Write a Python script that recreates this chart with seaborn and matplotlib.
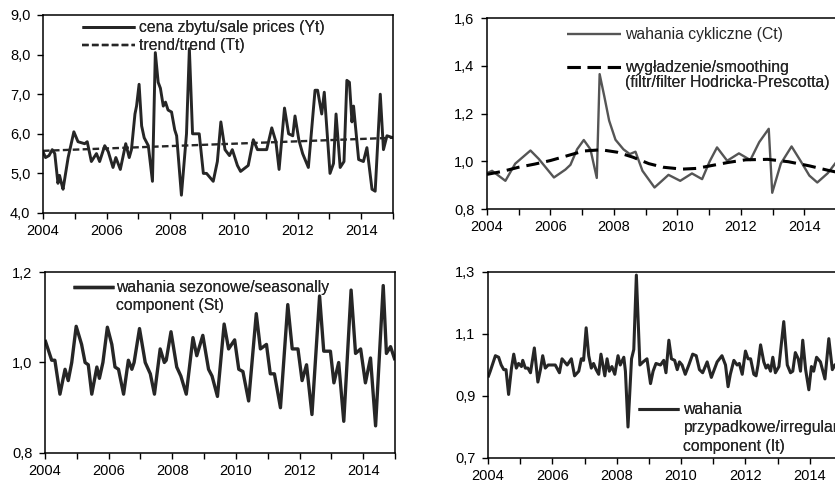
import matplotlib
matplotlib.use("Agg")
import matplotlib.pyplot as plt
import seaborn as sns
from matplotlib.ticker import MultipleLocator, FixedLocator, FuncFormatter
from matplotlib.lines import Line2D

# ---------------- data ----------------
# Panel 1: sale prices Yt (time in decimal years, value)
yt_t = [2004.00, 2004.08, 2004.19, 2004.29, 2004.37, 2004.47, 2004.52, 2004.58, 2004.63, 2004.79,
        2004.97, 2005.10, 2005.31, 2005.39, 2005.52, 2005.68, 2005.78, 2005.94, 2006.05, 2006.20,
        2006.29, 2006.43, 2006.60, 2006.71, 2006.78, 2006.89, 2006.94, 2007.02, 2007.10, 2007.18,
        2007.31, 2007.44, 2007.53, 2007.62, 2007.69, 2007.78, 2007.85, 2007.93, 2008.04, 2008.14,
        2008.20, 2008.35, 2008.51, 2008.60, 2008.70, 2008.91, 2009.04, 2009.14, 2009.35, 2009.48,
        2009.59, 2009.72, 2009.86, 2009.95, 2010.11, 2010.21, 2010.45, 2010.61, 2010.74, 2011.03,
        2011.19, 2011.32, 2011.42, 2011.59, 2011.72, 2011.85, 2011.92, 2012.04, 2012.16, 2012.34,
        2012.55, 2012.63, 2012.76, 2012.84, 2013.02, 2013.13, 2013.21, 2013.34, 2013.46, 2013.55,
        2013.63, 2013.71, 2013.76, 2013.92, 2014.07, 2014.18, 2014.34, 2014.44, 2014.60, 2014.70,
        2014.81, 2015.00]
yt_v = [5.55, 5.40, 5.45, 5.60, 5.50, 4.75, 4.95, 4.75, 4.60, 5.40,
        6.05, 5.80, 5.75, 5.80, 5.30, 5.50, 5.30, 5.70, 5.55, 5.15,
        5.40, 5.10, 5.75, 5.40, 5.60, 6.50, 6.70, 7.25, 6.20, 5.90,
        5.70, 4.80, 8.05, 7.30, 7.15, 6.70, 6.80, 6.60, 6.55, 6.10,
        5.95, 4.45, 6.00, 8.15, 6.00, 6.00, 5.00, 5.00, 4.80, 5.30,
        6.30, 5.60, 5.45, 5.60, 5.20, 5.05, 5.20, 5.85, 5.60, 5.60,
        6.15, 5.80, 5.10, 6.65, 6.00, 5.95, 6.45, 5.85, 5.50, 5.15,
        7.10, 7.10, 6.50, 7.05, 5.00, 5.25, 6.50, 5.15, 5.30, 7.35,
        7.30, 6.30, 6.70, 5.35, 5.30, 5.65, 4.60, 4.55, 7.00, 5.60,
        5.95, 5.90]
trend_t = [2004.0, 2015.0]
trend_v = [5.57, 5.90]

# Panel 2: cyclical component Ct and HP smoothing
ct_t = [2004.00, 2004.16, 2004.58, 2004.89, 2005.37, 2005.63, 2006.11, 2006.47, 2006.63, 2006.84,
        2007.05, 2007.26, 2007.46, 2007.55, 2007.70, 2007.85, 2008.05, 2008.30, 2008.50, 2008.68,
        2008.90, 2009.28, 2009.53, 2009.72, 2010.09, 2010.46, 2010.78, 2011.02, 2011.25, 2011.57,
        2011.94, 2012.30, 2012.58, 2012.88, 2012.99, 2013.26, 2013.60, 2013.89, 2014.16, 2014.41,
        2014.74, 2015.00]
ct_v = [0.950, 0.960, 0.918, 0.990, 1.045, 1.010, 0.932, 0.965, 0.985, 1.050,
        1.089, 1.050, 0.930, 1.365, 1.270, 1.170, 1.090, 1.050, 1.030, 1.040,
        0.960, 0.890, 0.920, 0.943, 0.918, 0.949, 0.925, 1.000, 1.058, 1.002,
        1.033, 1.005, 1.080, 1.136, 0.868, 0.990, 1.062, 1.000, 0.940, 0.911,
        0.950, 0.995]
hp_t = [2004.0, 2004.5, 2005.0, 2005.5, 2006.0, 2006.5, 2007.05, 2007.6, 2008.1, 2008.6,
        2009.1, 2009.55, 2010.15, 2010.6, 2011.0, 2011.6, 2012.15, 2012.85, 2013.5, 2014.15,
        2014.75, 2015.0]
hp_v = [0.945, 0.958, 0.975, 0.988, 1.003, 1.022, 1.043, 1.048, 1.038, 1.017,
        0.990, 0.975, 0.967, 0.970, 0.980, 0.995, 1.006, 1.008, 0.998, 0.981,
        0.962, 0.955]

# Panel 3: seasonal component St
st_t = [2004.00, 2004.14, 2004.21, 2004.31, 2004.47, 2004.63, 2004.73, 2004.84, 2004.98, 2005.15,
        2005.26, 2005.36, 2005.47, 2005.63, 2005.71, 2005.82, 2005.96, 2006.10, 2006.20, 2006.31,
        2006.47, 2006.62, 2006.73, 2006.80, 2006.97, 2007.15, 2007.31, 2007.44, 2007.62, 2007.75,
        2007.81, 2007.96, 2008.14, 2008.27, 2008.44, 2008.65, 2008.77, 2008.96, 2009.14, 2009.25,
        2009.42, 2009.63, 2009.77, 2009.96, 2010.09, 2010.22, 2010.40, 2010.64, 2010.77, 2010.96,
        2011.08, 2011.21, 2011.40, 2011.63, 2011.77, 2011.95, 2012.08, 2012.22, 2012.39, 2012.63,
        2012.76, 2012.97, 2013.08, 2013.23, 2013.39, 2013.62, 2013.76, 2013.92, 2014.07, 2014.23,
        2014.39, 2014.63, 2014.73, 2014.86, 2015.00]
st_v = [1.050, 1.020, 1.005, 1.005, 0.930, 0.985, 0.960, 1.000, 1.080, 1.040,
        1.000, 0.995, 0.930, 0.990, 0.965, 1.000, 1.078, 1.040, 0.990, 0.985,
        0.930, 1.005, 0.985, 1.000, 1.075, 1.000, 0.975, 0.930, 1.030, 1.000,
        1.005, 1.068, 0.990, 0.970, 0.930, 1.055, 1.015, 1.060, 0.985, 0.970,
        0.925, 1.085, 1.030, 1.050, 0.985, 0.980, 0.915, 1.108, 1.030, 1.040,
        0.975, 0.975, 0.900, 1.128, 1.030, 1.030, 0.960, 0.995, 0.885, 1.147,
        1.025, 1.025, 0.955, 1.000, 0.870, 1.160, 1.020, 1.030, 0.955, 1.010,
        0.860, 1.170, 1.020, 1.035, 1.005]

# Panel 4: irregular component It
it_t = [2004.00, 2004.07, 2004.23, 2004.33, 2004.41, 2004.49, 2004.56, 2004.64, 2004.73, 2004.80,
        2004.88, 2004.95, 2005.04, 2005.08, 2005.16, 2005.24, 2005.32, 2005.44, 2005.55, 2005.63,
        2005.70, 2005.78, 2005.87, 2006.09, 2006.22, 2006.30, 2006.46, 2006.59, 2006.69, 2006.82,
        2006.90, 2006.97, 2007.05, 2007.13, 2007.21, 2007.28, 2007.36, 2007.44, 2007.51, 2007.63,
        2007.70, 2007.77, 2007.85, 2007.94, 2008.04, 2008.11, 2008.22, 2008.27, 2008.35, 2008.46,
        2008.53, 2008.61, 2008.72, 2008.82, 2008.94, 2009.05, 2009.13, 2009.22, 2009.36, 2009.46,
        2009.53, 2009.62, 2009.70, 2009.80, 2009.88, 2009.95, 2010.03, 2010.13, 2010.24, 2010.36,
        2010.47, 2010.57, 2010.67, 2010.81, 2010.94, 2011.12, 2011.27, 2011.38, 2011.46, 2011.53,
        2011.64, 2011.74, 2011.81, 2011.90, 2012.00, 2012.08, 2012.16, 2012.26, 2012.33, 2012.39,
        2012.47, 2012.57, 2012.64, 2012.70, 2012.78, 2012.85, 2012.93, 2013.04, 2013.19, 2013.30,
        2013.40, 2013.47, 2013.55, 2013.64, 2013.71, 2013.78, 2013.87, 2013.97, 2014.05, 2014.12,
        2014.21, 2014.33, 2014.47, 2014.59, 2014.70, 2014.78, 2014.90, 2015.00]
it_v = [0.960, 0.980, 1.030, 1.025, 1.000, 0.985, 0.985, 0.905, 0.990, 1.035,
        0.990, 1.005, 0.995, 1.015, 0.990, 0.990, 0.975, 1.055, 0.945, 0.985,
        1.030, 0.990, 1.000, 1.000, 0.975, 1.020, 1.000, 1.020, 0.965, 0.980,
        1.020, 1.015, 1.120, 1.030, 0.990, 1.005, 0.985, 0.970, 1.035, 0.965,
        1.020, 0.980, 0.995, 0.970, 1.030, 1.000, 1.025, 0.980, 0.800, 1.020,
        1.050, 1.290, 1.000, 1.010, 1.020, 0.940, 0.980, 1.005, 1.000, 1.015,
        0.975, 1.080, 1.020, 1.015, 0.985, 1.010, 1.000, 0.970, 1.000, 1.035,
        1.030, 0.985, 0.975, 1.010, 0.960, 1.010, 1.030, 1.000, 0.930, 0.970,
        1.015, 1.000, 1.005, 0.970, 1.045, 1.020, 1.020, 0.970, 0.965, 1.000,
        1.065, 1.010, 0.990, 1.000, 0.980, 1.025, 0.975, 0.995, 1.140, 1.000,
        0.975, 0.980, 1.040, 1.020, 0.980, 1.080, 0.985, 0.920, 0.995, 0.980,
        1.025, 1.010, 0.955, 1.085, 0.985, 1.000, 1.010, 1.000]

# y-axis ticks per panel
y1_ticks = [4.0, 5.0, 6.0, 7.0, 8.0, 9.0]
y2_ticks = [0.8, 1.0, 1.2, 1.4, 1.6]
y3_ticks = [0.8, 1.0, 1.2]
y4_ticks = [0.7, 0.9, 1.1, 1.3]

# labels
lab_yt = "cena zbytu/sale prices (Yt)"
lab_tt = "trend/trend (Tt)"
lab_ct = "wahania cykliczne (Ct)"
lab_hp1 = "wygładzenie/smoothing"
lab_hp2 = "(filtr/filter Hodricka-Prescotta)"
lab_st = ["wahania sezonowe/seasonally", "component (St)"]
lab_it = ["wahania", "przypadkowe/irregular", "component (It)"]

# ---------------- style ----------------
sns.set_style("white")
plt.rcParams['font.family'] = ['Liberation Sans', 'DejaVu Sans']
plt.rcParams['lines.solid_capstyle'] = 'butt'

W, H = 835, 484
fig = plt.figure(figsize=(W / 100, H / 100), dpi=100)

TICK_FS = 10.5
LEG_FS = 11.3


def make_axes(left, top, right, bottom):
    return fig.add_axes([left / W, 1 - bottom / H, (right - left) / W, (bottom - top) / H])


def style_axes(ax, ticks):
    ax.set_xlim(2004, 2015)
    ax.set_ylim(ticks[0], ticks[-1])
    ax.xaxis.set_major_locator(MultipleLocator(1))
    ax.xaxis.set_major_formatter(FuncFormatter(
        lambda v, p: f"{int(round(v))}" if int(round(v)) % 2 == 0 else ""))
    ax.yaxis.set_major_locator(FixedLocator(ticks))
    ax.yaxis.set_major_formatter(FuncFormatter(lambda v, p: f"{v:.1f}".replace('.', ',')))
    ax.tick_params(axis='both', direction='out', length=4, width=1.0, color='black',
                   labelsize=TICK_FS, labelcolor='black', pad=4,
                   bottom=True, left=True, top=False, right=False)
    ax.tick_params(axis='y', pad=5)
    for s in ax.spines.values():
        s.set_color('black')
        s.set_linewidth(1.1)
    ax.set_xlabel("")
    ax.set_ylabel("")


def place(ax, px, py):
    bb = ax.get_position()
    left, right = bb.x0 * W, bb.x1 * W
    top, bottom = (1 - bb.y1) * H, (1 - bb.y0) * H
    return ((px - left) / (right - left), 1 - (py - top) / (bottom - top))


def legend(ax, handles, labels, px, py, hl, pad=0.25, spacing=0.15):
    lg = ax.legend(handles, labels, loc='upper left', bbox_to_anchor=place(ax, px, py),
                   frameon=False, fontsize=LEG_FS, handlelength=hl, handletextpad=pad,
                   labelspacing=spacing, borderpad=0, borderaxespad=0)
    ax.add_artist(lg)
    return lg


BLACK = '#262626'
GRAY = '#555555'
blank = Line2D([], [], color='none')

# ---------------- Panel 1 ----------------
ax1 = make_axes(43, 15, 393, 213)
sns.lineplot(x=yt_t, y=yt_v, ax=ax1, color=BLACK, lw=2.1, estimator=None)
sns.lineplot(x=trend_t, y=trend_v, ax=ax1, color=BLACK, lw=1.7, estimator=None,
             linestyle=(0, (2.8, 1.4)))
style_axes(ax1, y1_ticks)
l1 = ax1.get_lines()
legend(ax1, [l1[0], l1[1]], [lab_yt, lab_tt], 82, 20, 3.4, spacing=0.2)

# ---------------- Panel 2 ----------------
ax2 = make_axes(487, 18, 836, 209)
sns.lineplot(x=ct_t, y=ct_v, ax=ax2, color=GRAY, lw=1.7, estimator=None)
sns.lineplot(x=hp_t, y=hp_v, ax=ax2, color='black', lw=2.2, estimator=None,
             linestyle=(0, (4.3, 2.3)))
style_axes(ax2, y2_ticks)
l2 = ax2.get_lines()
legend(ax2, [l2[0]], [lab_ct], 567, 27, 3.45)
legend(ax2, [l2[1], blank], [lab_hp1, lab_hp2], 567, 60, 3.45, spacing=-0.02)

# ---------------- Panel 3 ----------------
ax3 = make_axes(45, 272, 395, 453)
sns.lineplot(x=st_t, y=st_v, ax=ax3, color=BLACK, lw=2.4, estimator=None)
style_axes(ax3, y3_ticks)
l3 = ax3.get_lines()
legend(ax3, [l3[0], blank], lab_st, 73, 280, 2.6, pad=0.15, spacing=0.2)

# ---------------- Panel 4 ----------------
ax4 = make_axes(488, 272, 842, 458)
sns.lineplot(x=it_t, y=it_v, ax=ax4, color=BLACK, lw=2.2, estimator=None)
style_axes(ax4, y4_ticks)
l4 = ax4.get_lines()
legend(ax4, [l4[0], blank, blank], lab_it, 638, 402, 2.6, pad=0.25, spacing=0.22)

fig.savefig("out.png", dpi=100)
